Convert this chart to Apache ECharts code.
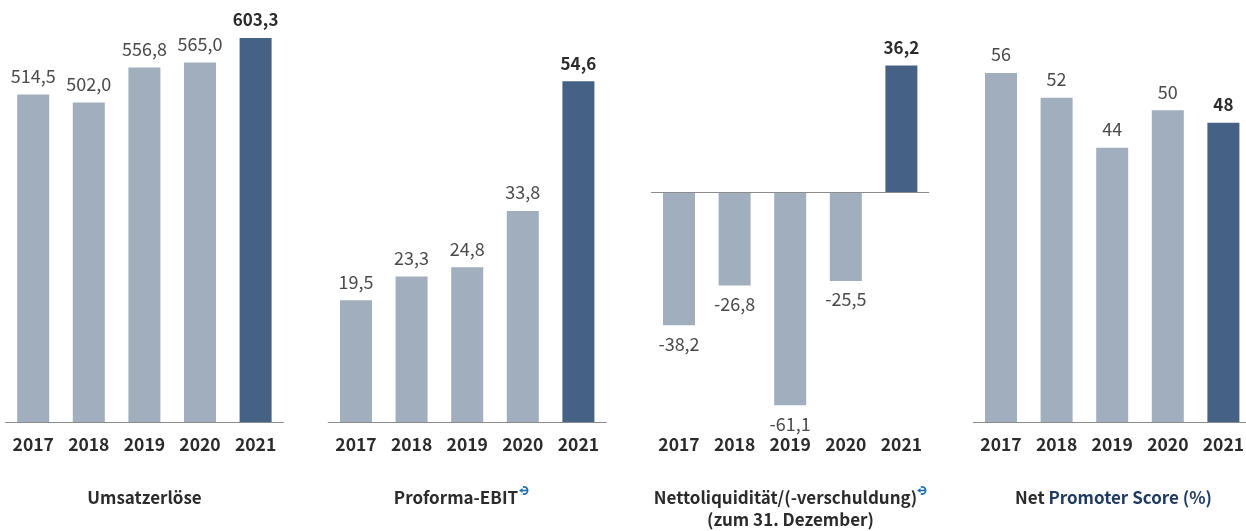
<!DOCTYPE html>
<html>
<head>
<meta charset="utf-8">
<title>Kennzahlen</title>
<script src="https://cdn.jsdelivr.net/npm/echarts@6/dist/echarts.min.js"></script>
<style>
html, body { margin: 0; padding: 0; background: #fff; }
#chart { width: 1246px; height: 531px; }
</style>
</head>
<body>
<div id="chart"></div>
<script>
const years = ['2017', '2018', '2019', '2020', '2021'];
const umsatz = [514.5, 502.0, 556.8, 565.0, 603.3];
const ebit = [19.5, 23.3, 24.8, 33.8, 54.6];
const liquiditaet = [-38.2, -26.8, -61.1, -25.5, 36.2];
const nps = [56, 52, 44, 50, 48];

const FONT = '"Noto Sans CJK SC", "Noto Sans", sans-serif';
const GREY = '#a0aebe';
const BLUE = '#456285';
const TEXT = '#2b2b2b';
const LINE = '#8c8c8c';
const ICON = '#1f6fb5';

const chart = echarts.init(document.getElementById('chart'));

// Balken: das letzte Jahr dunkel und fett
function makeSeries(index, values, digits) {
    return {
        type: 'bar',
        xAxisIndex: index,
        yAxisIndex: index,
        barWidth: 32,
        silent: true,
        data: values.map(function(v, i) {
            const last = i === values.length - 1;
            return {
                value: v,
                itemStyle: { color: last ? BLUE : GREY },
                label: {
                    show: true,
                    position: v < 0 ? 'bottom' : 'top',
                    distance: 9.5,
                    fontFamily: FONT,
                    fontSize: last ? 17 : 18,
                    fontWeight: last ? 'bold' : 'normal',
                    color: last ? TEXT : '#4a4a4a',
                    formatter: v.toFixed(digits).replace('.', ',')
                }
            };
        })
    };
}

function makeXAxis(index, showLine) {
    return {
        type: 'category',
        gridIndex: index,
        data: years,
        axisTick: { show: false },
        axisLine: { show: showLine, onZero: false, lineStyle: { color: LINE, width: 1 } },
        axisLabel: { fontFamily: FONT, fontSize: 17.5, fontWeight: 'bold', color: TEXT, margin: 14 }
    };
}

function makeYAxis(index, min, max) {
    return { type: 'value', gridIndex: index, min: min, max: max, show: false };
}

// kleines Pfeil-Symbol hinter den Titeln
function makeIcon(x, y) {
    return {
        type: 'group',
        x: x,
        y: y,
        silent: true,
        children: [
            {
                type: 'arc',
                shape: { cx: 0, cy: 0, r: 3.6, startAngle: -Math.PI * 0.6, endAngle: Math.PI * 0.6 },
                style: { fill: null, stroke: ICON, lineWidth: 1.8 }
            },
            { type: 'line', shape: { x1: -2, y1: 0, x2: 3, y2: 0 }, style: { stroke: ICON, lineWidth: 1.6 } },
            { type: 'polygon', shape: { points: [[-5, 0], [-1.5, -2.4], [-1.5, 2.4]] }, style: { fill: ICON } }
        ]
    };
}

const axisLeft = [5.4, 328.2, 651.2, 973.2];

const titleList = [
    { text: 'Umsatzerlöse', x: 144.5 },
    { text: 'Proforma-EBIT{m|}', x: 461 },
    { text: 'Nettoliquidität/(-verschuldung){m|}\n(zum 31. Dezember)', x: 790.5 },
    { text: '{d|Net }{n|Promoter Score (%)}', x: 1113.5 }
];

const liquiditaetSeries = makeSeries(2, liquiditaet, 1);
// Nulllinie im dritten Diagramm, die Jahre bleiben unten
liquiditaetSeries.markLine = {
    silent: true,
    symbol: 'none',
    label: { show: false },
    lineStyle: { color: LINE, width: 1, type: 'solid' },
    data: [{ yAxis: 0 }]
};

chart.setOption({
    animation: false,
    grid: axisLeft.map(function(left) {
        return { left: left, top: 0, width: 278, height: 422, outerBoundsMode: 'none' };
    }),
    xAxis: [makeXAxis(0, true), makeXAxis(1, true), makeXAxis(2, false), makeXAxis(3, true)],
    yAxis: [
        makeYAxis(0, 0, 663),
        makeYAxis(1, 0, 67.6),
        makeYAxis(2, -65.9, 55),
        makeYAxis(3, 0, 67.7)
    ],
    series: [
        makeSeries(0, umsatz, 1),
        makeSeries(1, ebit, 1),
        liquiditaetSeries,
        makeSeries(3, nps, 0)
    ],
    title: titleList.map(function(t) {
        return {
            text: t.text,
            left: t.x,
            top: 487,
            padding: 0,
            textAlign: 'center',
            textStyle: {
                fontFamily: FONT,
                fontSize: 17,
                fontWeight: 'bold',
                color: TEXT,
                lineHeight: 22,
                rich: {
                    m: { width: 10, lineHeight: 22 },
                    d: { fontFamily: FONT, fontSize: 17, fontWeight: 'bold', color: TEXT },
                    n: { fontFamily: FONT, fontSize: 17, fontWeight: 'bold', color: '#1f3a5f' }
                }
            }
        };
    }),
    graphic: [makeIcon(524, 490.5), makeIcon(922, 490.5)]
});

window.addEventListener('resize', function() {
    chart.resize();
});
</script>
</body>
</html>
